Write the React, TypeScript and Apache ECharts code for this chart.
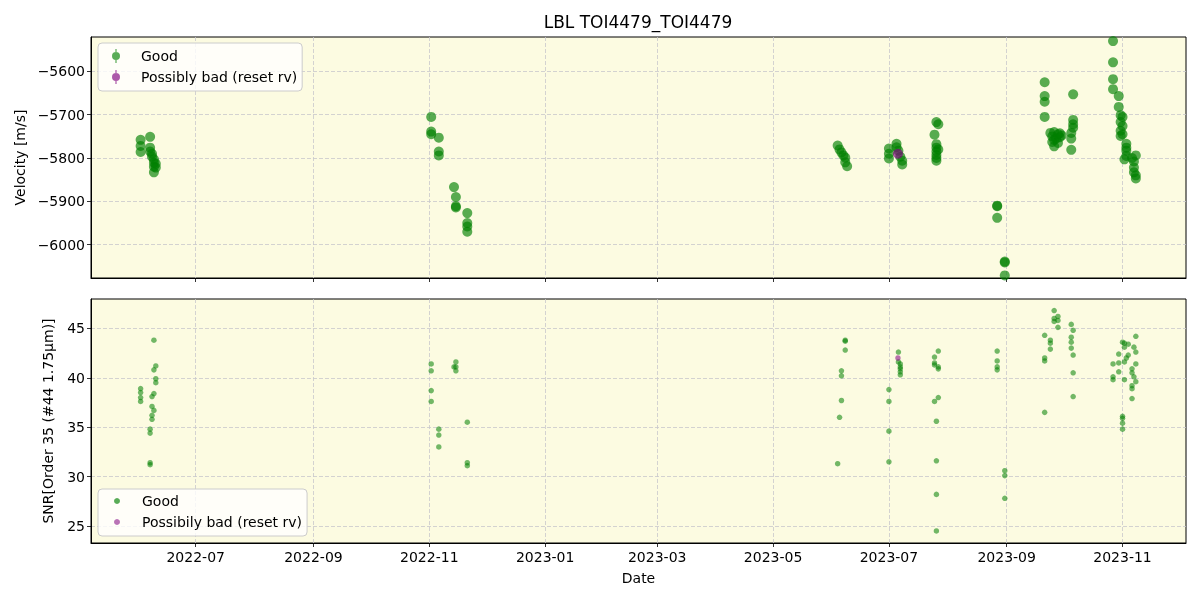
import React, { useEffect, useRef } from "react";
import * as echarts from "echarts";

const chartTitle = "LBL TOI4479_TOI4479";
const xTickLabels = ["2022-07", "2022-09", "2022-11", "2023-01", "2023-03", "2023-05", "2023-07", "2023-09", "2023-11"];
const rvTicks = [-6000, -5900, -5800, -5700, -5600];
const snrTicks = [25, 30, 35, 40, 45];

const rvGood: [string, number][] = [
  ["2022-06-02", -5758], ["2022-06-02", -5772], ["2022-06-02", -5786],
  ["2022-06-07", -5751], ["2022-06-07", -5776], ["2022-06-07", -5785],
  ["2022-06-08", -5790], ["2022-06-08", -5797], ["2022-06-09", -5803],
  ["2022-06-09", -5811], ["2022-06-09", -5820], ["2022-06-09", -5833],
  ["2022-06-10", -5822], ["2022-06-10", -5813],
  ["2022-11-02", -5705], ["2022-11-02", -5739], ["2022-11-02", -5745],
  ["2022-11-06", -5753], ["2022-11-06", -5785], ["2022-11-06", -5794],
  ["2022-11-14", -5867], ["2022-11-15", -5890], ["2022-11-15", -5911], ["2022-11-15", -5914],
  ["2022-11-21", -5927], ["2022-11-21", -5950], ["2022-11-21", -5958], ["2022-11-21", -5970],
  ["2023-06-04", -5771], ["2023-06-05", -5780], ["2023-06-06", -5787], ["2023-06-07", -5794],
  ["2023-06-08", -5799], ["2023-06-08", -5810], ["2023-06-09", -5819],
  ["2023-07-01", -5778], ["2023-07-01", -5790], ["2023-07-01", -5801],
  ["2023-07-05", -5767], ["2023-07-05", -5775], ["2023-07-06", -5783],
  ["2023-07-07", -5797], ["2023-07-08", -5806], ["2023-07-08", -5815],
  ["2023-07-26", -5717], ["2023-07-27", -5722], ["2023-07-25", -5746],
  ["2023-07-26", -5768], ["2023-07-26", -5776], ["2023-07-26", -5785],
  ["2023-07-26", -5793], ["2023-07-26", -5800], ["2023-07-26", -5806], ["2023-07-27", -5780],
  ["2023-08-27", -5910], ["2023-08-27", -5911], ["2023-08-27", -5938],
  ["2023-08-31", -6039], ["2023-08-31", -6041], ["2023-08-31", -6071],
  ["2023-09-21", -5625], ["2023-09-21", -5657], ["2023-09-21", -5670], ["2023-09-21", -5705],
  ["2023-09-24", -5742], ["2023-09-25", -5750], ["2023-09-25", -5763], ["2023-09-26", -5773],
  ["2023-09-26", -5740], ["2023-09-26", -5758], ["2023-09-27", -5755], ["2023-09-28", -5745],
  ["2023-09-28", -5765], ["2023-09-29", -5752], ["2023-09-29", -5743], ["2023-09-30", -5748],
  ["2023-10-06", -5653], ["2023-10-06", -5712], ["2023-10-06", -5722], ["2023-10-06", -5730],
  ["2023-10-05", -5742], ["2023-10-05", -5755], ["2023-10-05", -5781],
  ["2023-10-27", -5530], ["2023-10-27", -5579], ["2023-10-27", -5618], ["2023-10-27", -5641],
  ["2023-10-30", -5657], ["2023-10-30", -5682], ["2023-10-31", -5701], ["2023-11-01", -5705],
  ["2023-10-31", -5717], ["2023-11-01", -5726], ["2023-10-31", -5737], ["2023-10-31", -5749],
  ["2023-11-01", -5745], ["2023-11-03", -5767], ["2023-11-03", -5776], ["2023-11-03", -5783],
  ["2023-11-03", -5795], ["2023-11-02", -5803], ["2023-11-08", -5794], ["2023-11-07", -5808],
  ["2023-11-07", -5822], ["2023-11-07", -5833], ["2023-11-08", -5840], ["2023-11-08", -5847],
  ["2023-11-06", -5800],
];
const rvBad: [string, number][] = [["2023-07-05 18:00", -5790]];

const snrGood: [string, number][] = [
  ["2022-06-02", 38.9], ["2022-06-02", 38.5], ["2022-06-02", 38.0], ["2022-06-02", 37.6],
  ["2022-06-07", 34.8], ["2022-06-07", 34.4], ["2022-06-07", 31.4], ["2022-06-07", 31.2],
  ["2022-06-08", 38.1], ["2022-06-08", 37.1], ["2022-06-08", 36.2], ["2022-06-08", 35.8],
  ["2022-06-09", 43.8], ["2022-06-09", 40.8], ["2022-06-09", 38.4], ["2022-06-09", 36.7],
  ["2022-06-10", 41.2], ["2022-06-10", 39.9], ["2022-06-10", 39.5],
  ["2022-11-02", 41.4], ["2022-11-02", 40.7], ["2022-11-02", 38.7], ["2022-11-02", 37.6],
  ["2022-11-06", 34.8], ["2022-11-06", 34.2], ["2022-11-06", 33.0],
  ["2022-11-14", 41.1], ["2022-11-15", 41.6], ["2022-11-15", 41.1], ["2022-11-15", 40.7],
  ["2022-11-21", 35.5], ["2022-11-21", 31.4], ["2022-11-21", 31.1],
  ["2023-06-04", 31.3], ["2023-06-05", 36.0], ["2023-06-06", 37.7], ["2023-06-06", 40.2],
  ["2023-06-06", 40.7], ["2023-06-08", 43.8], ["2023-06-08", 43.7], ["2023-06-08", 42.8],
  ["2023-07-01", 38.8], ["2023-07-01", 37.6], ["2023-07-01", 34.6], ["2023-07-01", 31.5],
  ["2023-07-06", 42.6], ["2023-07-06", 41.6], ["2023-07-07", 41.4], ["2023-07-07", 41.1],
  ["2023-07-07", 40.9], ["2023-07-07", 40.6], ["2023-07-07", 40.3],
  ["2023-07-25", 42.1], ["2023-07-25", 41.5], ["2023-07-25", 41.3], ["2023-07-25", 37.6],
  ["2023-07-27", 42.7], ["2023-07-27", 41.1], ["2023-07-27", 40.9], ["2023-07-27", 38.0],
  ["2023-07-26", 35.6], ["2023-07-26", 31.6], ["2023-07-26", 28.2], ["2023-07-26", 24.5],
  ["2023-08-27", 42.7], ["2023-08-27", 41.7], ["2023-08-27", 41.1], ["2023-08-27", 40.8],
  ["2023-08-31", 30.6], ["2023-08-31", 30.1], ["2023-08-31", 27.8],
  ["2023-09-21", 44.3], ["2023-09-21", 42.0], ["2023-09-21", 41.7], ["2023-09-21", 36.5],
  ["2023-09-24", 43.8], ["2023-09-24", 43.5], ["2023-09-24", 42.9],
  ["2023-09-26", 46.8], ["2023-09-26", 46.0], ["2023-09-26", 45.7],
  ["2023-09-28", 46.2], ["2023-09-28", 45.8], ["2023-09-28", 45.1],
  ["2023-10-05", 45.4], ["2023-10-05", 44.1], ["2023-10-05", 43.6], ["2023-10-05", 43.0],
  ["2023-10-06", 44.8], ["2023-10-06", 42.3], ["2023-10-06", 40.5], ["2023-10-06", 38.1],
  ["2023-10-27", 41.4], ["2023-10-27", 40.1], ["2023-10-27", 39.8],
  ["2023-10-30", 42.4], ["2023-10-30", 41.5], ["2023-10-30", 40.6],
  ["2023-11-01", 36.1], ["2023-11-01", 35.9], ["2023-11-01", 35.4], ["2023-11-01", 34.8], ["2023-11-01", 43.6],
  ["2023-11-02", 43.5], ["2023-11-02", 41.6], ["2023-11-02", 39.8], ["2023-11-02", 43.1],
  ["2023-11-03", 42.0], ["2023-11-04", 43.4], ["2023-11-04", 42.3],
  ["2023-11-06", 40.9], ["2023-11-06", 40.5], ["2023-11-06", 39.2], ["2023-11-06", 38.9], ["2023-11-06", 37.9],
  ["2023-11-07", 43.1], ["2023-11-07", 40.1],
  ["2023-11-08", 44.2], ["2023-11-08", 42.6], ["2023-11-08", 41.4], ["2023-11-08", 39.6],
];
const snrBad: [string, number][] = [["2023-07-05 18:00", 42.0]];

const FONT = "DejaVu Sans";

function monthTs(label: string): number {
  const [y, m] = label.split("-").map(Number);
  return Date.UTC(y, m - 1, 1);
}
function dateTs(s: string): number {
  const [d, t] = s.split(" ");
  const [y, m, day] = d.split("-").map(Number);
  let h = 0;
  if (t) h = Number(t.split(":")[0]);
  return Date.UTC(y, m - 1, day, h);
}
const toPoints = (arr: [string, number][]) => arr.map(([d, v]) => [dateTs(d), v]);

export default function App() {
  const ref = useRef<HTMLDivElement>(null);
  useEffect(() => {
    if (!ref.current) return;
    const chart = echarts.init(ref.current, null, { renderer: "svg" });
    const xTicks = xTickLabels.map(monthTs);
    const xMin = Date.UTC(2022, 4, 6, 21);
    const xMax = Date.UTC(2023, 11, 4, 10);
    const pad2 = (n: number) => (n < 10 ? "0" + n : "" + n);
    const fmtDate = (v: number) => {
      const d = new Date(v);
      return d.getUTCFullYear() + "-" + pad2(d.getUTCMonth() + 1);
    };
    const minusFmt = (v: number) => (v < 0 ? "\u2212" + Math.abs(v) : String(v));
    const split = { show: true, lineStyle: { color: "#c8c8cc", type: [4, 2] as any, width: 0.8 } };
    const axLine = { show: true, onZero: false, lineStyle: { color: "#000", width: 1 } };
    const tickStyle = { color: "#000", width: 0.8 };
    const labelStyle = { color: "#000", fontSize: 14, fontFamily: FONT };
    const ebIcon = "path://M1,7 A4,4 0 1,1 9,7 A4,4 0 1,1 1,7 Z M4.4,0 L5.6,0 L5.6,14 L4.4,14 Z";
    const gridBase = { left: 91, right: 14, show: true, backgroundColor: "#fcfbe1", borderColor: "#000", borderWidth: 1 };

    chart.setOption({
      animation: false,
      graphic: [
        {
          type: "text",
          x: 638,
          y: 22,
          style: { text: chartTitle, font: `17px "${FONT}"`, fill: "#000", textAlign: "center", textVerticalAlign: "middle" },
        },
      ],
      grid: [
        { ...gridBase, top: 37, height: 241 },
        { ...gridBase, top: 299, height: 244 },
      ],
      xAxis: [
        {
          type: "value", gridIndex: 0, min: xMin, max: xMax,
          axisLine: axLine,
          axisTick: { show: true, customValues: xTicks, length: 4, lineStyle: tickStyle },
          axisLabel: { show: false, customValues: xTicks },
          splitLine: split,
        },
        {
          type: "value", gridIndex: 1, min: xMin, max: xMax,
          axisLine: axLine,
          axisTick: { show: true, customValues: xTicks, length: 4, lineStyle: tickStyle },
          axisLabel: { ...labelStyle, show: true, customValues: xTicks, formatter: fmtDate, margin: 7, hideOverlap: false },
          splitLine: split,
          name: "Date", nameLocation: "middle", nameGap: 28,
          nameTextStyle: { ...labelStyle },
        },
      ],
      yAxis: [
        {
          type: "value", gridIndex: 0, min: -6076.9, max: -5520.6,
          axisLine: axLine,
          axisTick: { show: true, customValues: rvTicks, length: 4, lineStyle: tickStyle },
          axisLabel: { ...labelStyle, customValues: rvTicks, formatter: minusFmt, margin: 6 },
          splitLine: split,
          name: "Velocity [m/s]", nameLocation: "middle", nameRotate: 90, nameGap: 63,
          nameTextStyle: { ...labelStyle },
        },
        {
          type: "value", gridIndex: 1, min: 23.28, max: 47.97,
          axisLine: axLine,
          axisTick: { show: true, customValues: snrTicks, length: 4, lineStyle: tickStyle },
          axisLabel: { ...labelStyle, customValues: snrTicks, margin: 6 },
          splitLine: split,
          name: "SNR[Order 35 (#44 1.75\u03bcm)]", nameLocation: "middle", nameRotate: 90, nameGap: 36,
          nameTextStyle: { ...labelStyle },
        },
      ],
      legend: [
        {
          left: 98, top: 43, orient: "vertical", selectedMode: false,
          data: [
            { name: "Good", icon: ebIcon },
            { name: "Possibly bad (reset rv)", icon: ebIcon },
          ],
          itemWidth: 10, itemHeight: 14, itemGap: 5,
          padding: [5, 5, 6, 14],
          backgroundColor: "rgba(255,255,255,0.8)", borderColor: "#cccccc", borderWidth: 1, borderRadius: 4,
          textStyle: { ...labelStyle, lineHeight: 16, padding: [0, 0, 0, 15] },
        },
        {
          left: 98, top: 489, orient: "vertical", selectedMode: false,
          data: [
            { name: "Good", icon: "circle" },
            { name: "Possibily bad (reset rv)", icon: "circle" },
          ],
          itemWidth: 6, itemHeight: 6, itemGap: 5,
          padding: [4, 5, 6, 16],
          backgroundColor: "rgba(255,255,255,0.8)", borderColor: "#cccccc", borderWidth: 1, borderRadius: 4,
          textStyle: { ...labelStyle, lineHeight: 16, padding: [0, 0, 0, 17] },
        },
      ],
      series: [
        {
          type: "scatter", name: "Good", xAxisIndex: 0, yAxisIndex: 0, data: toPoints(rvGood),
          symbolSize: 10, itemStyle: { color: "#008000", opacity: 0.65 },
        },
        {
          type: "scatter", name: "Possibly bad (reset rv)", xAxisIndex: 0, yAxisIndex: 0, data: toPoints(rvBad),
          symbolSize: 10, itemStyle: { color: "#800080", opacity: 0.65 },
        },
        {
          type: "scatter", name: "Good", xAxisIndex: 1, yAxisIndex: 1, data: toPoints(snrGood),
          symbolSize: 5.5, itemStyle: { color: "#008000", opacity: 0.55 },
        },
        {
          type: "scatter", name: "Possibily bad (reset rv)", xAxisIndex: 1, yAxisIndex: 1, data: toPoints(snrBad),
          symbolSize: 5.5, itemStyle: { color: "#800080", opacity: 0.55 },
        },
      ],
    });
    return () => chart.dispose();
  }, []);
  return <div ref={ref} style={{ position: "fixed", left: 0, top: 0, width: 1200, height: 600 }} />;
}
